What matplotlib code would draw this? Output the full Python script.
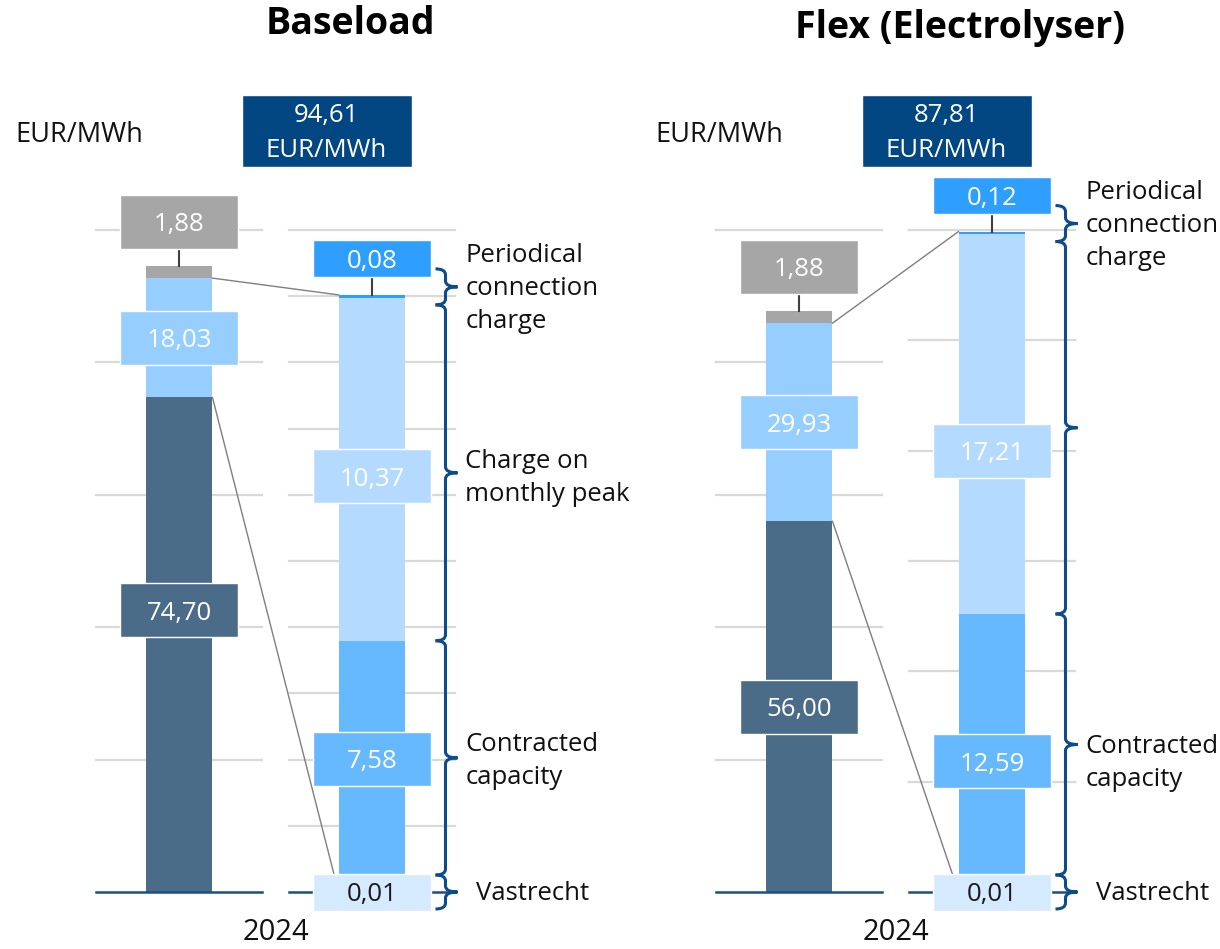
import numpy as np
import matplotlib.pyplot as plt
from matplotlib.patches import Rectangle, PathPatch
from matplotlib.path import Path

plt.rcParams['font.family'] = ['Open Sans', 'DejaVu Sans']

# data
titles = ['Baseload', 'Flex (Electrolyser)']
year = '2024'
unit = 'EUR/MWh'
totals = [94.61, 87.81]
energy = [74.70, 56.00]
transport = [18.03, 29.93]
other = [1.88, 1.88]
vastrecht = [0.01, 0.01]
contracted = [7.58, 12.59]
monthly_peak = [10.37, 17.21]
periodical = [0.08, 0.12]
brace_labels = ['Vastrecht', 'Contracted\ncapacity', 'Charge on\nmonthly peak',
                'Periodical\nconnection\ncharge']
show_peak_label = [True, False]
zoom_max = [20, 30]
zoom_step = [2, 5]

# style
c_energy = '#4B6C89'
c_transport = '#95CEFF'
c_other = '#A6A6A6'
c_vast = '#D5EAFF'
c_contr = '#66B8FF'
c_peak = '#B4DBFF'
c_period = '#2F9FFF'
c_head = '#034782'
c_brace = '#0D4C8C'
c_grid = '#D9D9D9'
c_base = '#1B4F86'

W, H = 1220, 949
fig = plt.figure(figsize=(W / 100, H / 100), dpi=100)

ov = fig.add_axes([0, 0, 1, 1], zorder=5)
ov.set_xlim(0, W)
ov.set_ylim(H, 0)
ov.axis('off')


def add_ax(x0, x1, ytop, ybot):
    return fig.add_axes([x0 / W, 1 - ybot / H, (x1 - x0) / W, (ybot - ytop) / H])


def px(ax, x, y):
    return ov.transData.inverted().transform(ax.transData.transform((x, y)))


def fmt(v):
    return f'{v:.2f}'.replace('.', ',')


def box(xc, yc, w, h, color, text, tc='white', fs=18.5):
    ov.add_patch(Rectangle((xc - w / 2, yc - h / 2), w, h, fc=color, ec='white', lw=1, zorder=4))
    ov.text(xc, yc + 3, text, ha='center', va='center', color=tc, fontsize=fs, zorder=5)


def brace(x, ytop, ybot, hook=10, tip=12, r=6):
    ym = (ytop + ybot) / 2
    verts = [(x - hook, ytop), (x, ytop), (x, ytop + r),
             (x, ym - r), (x, ym), (x + tip, ym),
             (x, ym), (x, ym + r),
             (x, ybot - r), (x, ybot), (x - hook, ybot)]
    codes = [Path.MOVETO, Path.CURVE3, Path.CURVE3,
             Path.LINETO, Path.CURVE3, Path.CURVE3,
             Path.CURVE3, Path.CURVE3,
             Path.LINETO, Path.CURVE3, Path.CURVE3]
    ov.add_patch(PathPatch(Path(verts, codes), fill=False, ec=c_brace, lw=2.2, zorder=3))


bw = 0.807
for i in range(2):
    off = 620 * i
    axL = add_ax(96 + off, 262 + off, 230, 892)
    axR = add_ax(289 + off, 455 + off, 230, 892)
    for ax, top, step in [(axL, 100, 20), (axR, zoom_max[i], zoom_step[i])]:
        ax.set_xlim(-1, 1)
        ax.set_ylim(0, top)
        ax.axis('off')
        for v in np.arange(step, top + step / 2, step):
            ax.axhline(v, color=c_grid, lw=1.6, zorder=0, clip_on=False)
        ax.axhline(0, color=c_base, lw=1.8, zorder=3, clip_on=False)

    # main bar
    main = [energy[i], transport[i], other[i]]
    main_c = [c_energy, c_transport, c_other]
    bottom = 0
    for v, c in zip(main, main_c):
        axL.bar(0, v, bottom=bottom, width=bw, color=c, zorder=2)
        bottom += v

    # breakdown bar
    parts = [vastrecht[i], contracted[i], monthly_peak[i], periodical[i]]
    parts_c = [c_vast, c_contr, c_peak, c_period]
    bottom = 0
    for v, c in zip(parts, parts_c):
        axR.bar(0, v, bottom=bottom, width=bw, color=c, zorder=2)
        bottom += v
    ztop = bottom

    xL = px(axL, 0, 0)[0]
    xR = px(axR, 0, 0)[0]
    y0 = px(axR, 0, 0)[1]

    # zoom connectors
    for a, b in [(energy[i], 0), (energy[i] + transport[i], ztop)]:
        p1 = px(axL, bw / 2, a)
        p2 = px(axR, -bw / 2, b)
        ov.plot([p1[0], p2[0]], [p1[1], p2[1]], color='#7F7F7F', lw=1, zorder=2)

    # main bar labels
    efrac = [0.57, 0.5][i]
    box(xL, px(axL, 0, energy[i] * efrac)[1], 118, 54, c_energy, fmt(energy[i]))
    box(xL, px(axL, 0, energy[i] + transport[i] / 2)[1], 118, 54, c_transport, fmt(transport[i]))
    ytop_main = px(axL, 0, totals[i])[1]
    ov.plot([xL, xL], [ytop_main - 17, ytop_main], color='#404040', lw=1.5, zorder=3)
    box(xL, ytop_main - 44, 118, 54, c_other, fmt(other[i]))

    # breakdown labels
    box(xR, y0, 118, 37, c_vast, fmt(vastrecht[i]), tc='#1A1A1A')
    cfrac = [0.53, 0.47][i]
    pb = vastrecht[i] + contracted[i]
    yc_contr = px(axR, 0, vastrecht[i] + contracted[i] * cfrac)[1]
    box(xR, yc_contr, 118, 54, c_contr, fmt(contracted[i]))
    pfrac = [0.48, 0.43][i]
    yc_peak = px(axR, 0, pb + monthly_peak[i] * pfrac)[1]
    box(xR, yc_peak, 118, 54, c_peak, fmt(monthly_peak[i]))
    ytop_z = px(axR, 0, ztop)[1]
    ov.plot([xR, xR], [ytop_z - 18, ytop_z], color='#404040', lw=1.5, zorder=3)
    box(xR, ytop_z - 36.5, 118, 37, c_period, fmt(periodical[i]))

    # braces
    xb = px(axR, bw / 2, 0)[0] + 40
    per_c = ytop_z - 8
    spans = [(y0 - 17, y0 + 17),
             (px(axR, 0, pb)[1], y0 - 17),
             (per_c + 18, px(axR, 0, pb)[1]),
             (per_c - 18, per_c + 18)]
    label_y = [y0, yc_contr, yc_peak, per_c]
    for k, (ya, yb) in enumerate(spans):
        brace(xb, ya, yb)
        if k == 2 and not show_peak_label[i]:
            continue
        dx = 31 if k == 0 else 20
        ov.text(xb + dx, label_y[k] + 2, brace_labels[k], ha='left', va='center',
                fontsize=18.5, color='#111111', linespacing=1.42)

    # header
    ov.text(15 + 640 * i, 135, unit, ha='left', va='center', fontsize=19.5, color='#111111')
    ov.add_patch(Rectangle((xR - 45.5 - 85, 95), 170, 72, fc=c_head, ec='white', lw=1, zorder=4))
    ov.text(xR - 45.5, 133, f'{fmt(totals[i])}\n{unit}', ha='center', va='center',
            color='white', fontsize=18.5, zorder=5, linespacing=1.5)

    ov.text((xL + xR) / 2, 933, year, ha='center', va='center', fontsize=21, color='#111111')

ov.text(350, 24, titles[0], ha='center', va='center', fontsize=27, weight='bold')
ov.text(960, 28, titles[1], ha='center', va='center', fontsize=27, weight='bold')

fig.savefig('out.png', dpi=100)
